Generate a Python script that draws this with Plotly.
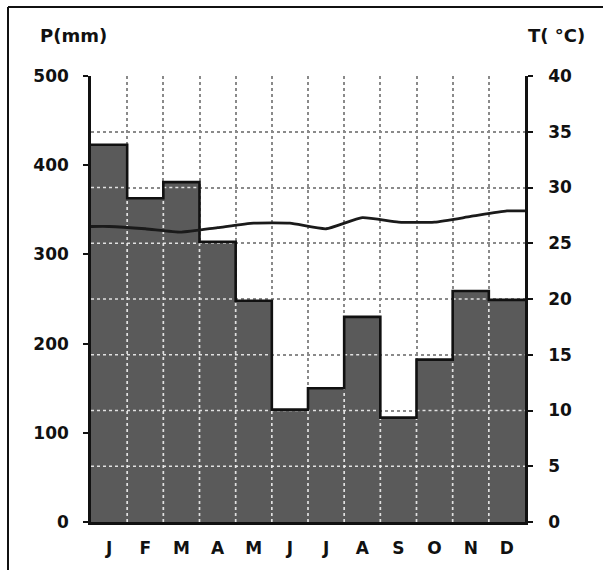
import plotly.graph_objects as go

# ---- data ----
months = ["J", "F", "M", "A", "M", "J", "J", "A", "S", "O", "N", "D"]
precip_mm = [423, 363, 381, 314, 248, 126, 150, 230, 117, 182, 259, 249]
temp_c = [26.5, 26.3, 26.0, 26.4, 26.8, 26.8, 26.3, 27.3, 26.9, 26.9, 27.4, 27.9]
p_ticks = [0, 100, 200, 300, 400, 500]
t_ticks = [0, 5, 10, 15, 20, 25, 30, 35, 40]

P_MAX = p_ticks[-1]
T_MAX = t_ticks[-1]
ratio = P_MAX / T_MAX
n = len(months)
xs = list(range(n))

FONT = "DejaVu Sans"
BAR = "#5a5a5a"
GRID = "#8a8a8a"

fig = go.Figure()

# bars
fig.add_trace(go.Bar(x=xs, y=precip_mm, width=1.0, marker=dict(color=BAR, line=dict(width=0)),
                     showlegend=False, hoverinfo="skip"))

# white dotted grid over bars: vertical at month boundaries
vx, vy = [], []
for i in range(n - 1):
    vx += [i + 0.5, i + 0.5, None]
    vy += [0, min(precip_mm[i], precip_mm[i + 1]), None]
# horizontal at temperature levels
hx, hy = [], []
for t in t_ticks[1:-1]:
    lvl = t * ratio
    i = 0
    while i < n:
        if precip_mm[i] > lvl:
            j = i
            while j + 1 < n and precip_mm[j + 1] > lvl:
                j += 1
            hx += [i - 0.5, j + 0.5, None]
            hy += [lvl, lvl, None]
            i = j + 1
        else:
            i += 1
fig.add_trace(go.Scatter(x=vx + hx, y=vy + hy, mode="lines",
                         line=dict(color="rgba(240,240,240,0.9)", width=1.7, dash="dot"),
                         showlegend=False, hoverinfo="skip"))

# step outline of bars
sx = [i - 0.5 for i in xs] + [n - 0.5]
sy = precip_mm + [precip_mm[-1]]
fig.add_trace(go.Scatter(x=sx, y=sy, mode="lines", line=dict(color="#111", width=2.6, shape="hv"),
                         showlegend=False, hoverinfo="skip"))

# temperature line
tx = [-0.5] + xs + [n - 0.5]
ty = [temp_c[0]] + temp_c + [temp_c[-1]]
fig.add_trace(go.Scatter(x=tx, y=ty, yaxis="y2", mode="lines",
                         line=dict(color="#1a1a1a", width=2.8, shape="spline", smoothing=0.5),
                         showlegend=False, hoverinfo="skip"))

tickfont = dict(family=FONT, size=17, color="#111", weight="bold")

fig.update_layout(
    width=603, height=570,
    margin=dict(l=91, r=78, t=76, b=48),
    paper_bgcolor="white", plot_bgcolor="white",
    bargap=0,
    xaxis=dict(range=[-0.5, n - 0.5], tickmode="array", tickvals=xs, ticktext=months,
               tickfont=dict(family=FONT, size=17, color="#111", weight="bold"),
               showgrid=False, zeroline=False, showline=True, linecolor="#111", linewidth=3,
               ticks="", ticklabelstandoff=9, automargin=False,
               minor=dict(tickmode="array", tickvals=[i + 0.5 for i in range(n - 1)],
                          showgrid=True, gridcolor=GRID, griddash="dot", gridwidth=1.5)),
    yaxis=dict(range=[0, P_MAX], tickmode="array", tickvals=p_ticks, tickfont=tickfont,
               ticks="outside", ticklen=5, tickwidth=2, tickcolor="#111",
               showline=True, linecolor="#111", linewidth=2.5, showgrid=False, zeroline=False,
               ticklabelstandoff=11, automargin=False,
               minor=dict(tickmode="array", tickvals=[t * ratio for t in t_ticks[1:]],
                          showgrid=True, gridcolor=GRID, griddash="dot", gridwidth=1.5)),
    yaxis2=dict(range=[0, T_MAX], overlaying="y", side="right", tickmode="array", tickvals=t_ticks,
                tickfont=tickfont, ticks="outside", ticklen=5, tickwidth=2, tickcolor="#111",
                showline=True, linecolor="#111", linewidth=2.5, showgrid=False, zeroline=False,
                ticklabelstandoff=12, automargin=False),
    annotations=[
        dict(text="P(mm)", xref="paper", yref="paper", x=(38 - 91) / 434, y=(522 - 36) / 446,
             xanchor="left", yanchor="middle", showarrow=False,
             font=dict(family=FONT, size=18, color="#111", weight="bold")),
        dict(text="T( °C)", xref="paper", yref="paper", x=(587 - 91) / 434, y=(522 - 36) / 446,
             xanchor="right", yanchor="middle", showarrow=False,
             font=dict(family=FONT, size=18, color="#111", weight="bold")),
    ],
    shapes=[
        dict(type="line", xref="paper", yref="paper", x0=(8 - 91) / 434, x1=(603 - 91) / 434,
             y0=(522 - 7) / 446, y1=(522 - 7) / 446, line=dict(color="#111", width=2)),
        dict(type="line", xref="paper", yref="paper", x0=(8 - 91) / 434, x1=(8 - 91) / 434,
             y0=(522 - 7) / 446, y1=(522 - 570) / 446, line=dict(color="#111", width=2)),
    ],
)

fig.write_html("out.html", post_script="document.body.style.margin='0';",
               config={"displayModeBar": False})
